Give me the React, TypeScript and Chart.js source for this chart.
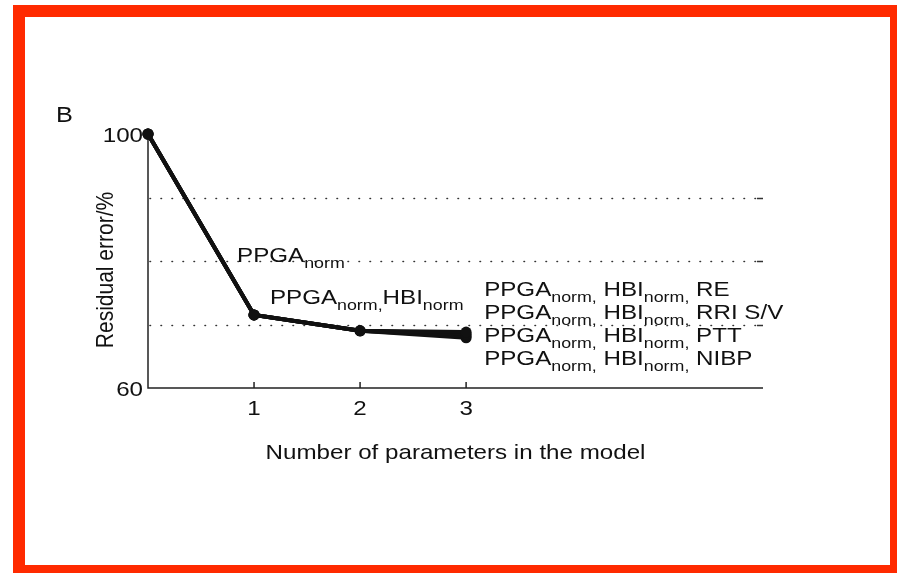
import React, { useEffect, useRef } from "react";
import { Chart, registerables } from "chart.js";

Chart.register(...registerables);

// Number of parameters in the model
const paramCounts = [0, 1, 2, 3];
// Residual error (%) shared by every model path up to two parameters
const sharedPath = [100, 71.5, 69.0];
// Residual error (%) of the four three-parameter models
const threeParamErrors = [68.8, 68.5, 68.2, 67.9];

const xTicks = [1, 2, 3];
const yTickLabels = [60, 100];
const yGridValues = [70, 80, 90];

const X_MAX = 5.8;
const Y_MIN = 60;
const Y_MAX = 100;

type Run = { t: string; sub?: boolean };

const oneParamLabel: Run[] = [{ t: "PPGA" }, { t: "norm", sub: true }];
const twoParamLabel: Run[] = [
  { t: "PPGA" },
  { t: "norm,", sub: true },
  { t: "HBI" },
  { t: "norm", sub: true },
];
const thirdParams = ["RE", "RRI S/V", "PTT", "NIBP"];

// label anchors in data units (left edge, first baseline)
const labelAnchors = [
  { x: 0.84, y: 79.8 },
  { x: 1.15, y: 73.2 },
  { x: 3.17, y: 74.5 },
];

const MAIN_FONT = '21px "Liberation Sans", Arial, sans-serif';
const SUB_FONT = '15.5px "Liberation Sans", Arial, sans-serif';
const SX = 1.15; // horizontal text stretch
const INK = "#111";

function drawText(ctx: CanvasRenderingContext2D, text: string, x: number, y: number, align: CanvasTextAlign) {
  ctx.save();
  ctx.translate(x, y);
  ctx.scale(SX, 1);
  ctx.textAlign = align;
  ctx.fillText(text, 0, 0);
  ctx.restore();
}

function drawRuns(ctx: CanvasRenderingContext2D, runs: Run[], x: number, y: number) {
  let cx = x;
  for (const r of runs) {
    ctx.font = r.sub ? SUB_FONT : MAIN_FONT;
    drawText(ctx, r.t, cx, y + (r.sub ? 6 : 0), "left");
    cx += ctx.measureText(r.t).width * SX;
  }
}

const framePlugin = {
  id: "frame",
  beforeDatasetsDraw(chart: any) {
    const { ctx, chartArea, scales } = chart;
    const xs = scales.x;
    const ys = scales.y;
    ctx.save();
    // dotted grid lines
    ctx.strokeStyle = "#333";
    ctx.lineWidth = 1.6;
    ctx.lineCap = "round";
    for (const v of yGridValues) {
      const py = Math.round(ys.getPixelForValue(v)) + 0.5;
      ctx.setLineDash([0.5, 10.5]);
      ctx.beginPath();
      ctx.moveTo(chartArea.left + 2, py);
      ctx.lineTo(chartArea.right - 7, py);
      ctx.stroke();
      ctx.setLineDash([]);
      ctx.lineCap = "butt";
      ctx.lineWidth = 1.5;
      ctx.beginPath();
      ctx.moveTo(chartArea.right - 6, py);
      ctx.lineTo(chartArea.right, py);
      ctx.stroke();
      ctx.lineCap = "round";
      ctx.lineWidth = 1.6;
    }
    // axes
    ctx.setLineDash([]);
    ctx.lineCap = "butt";
    ctx.strokeStyle = "#222";
    ctx.lineWidth = 1.5;
    ctx.beginPath();
    ctx.moveTo(chartArea.left, chartArea.top);
    ctx.lineTo(chartArea.left, chartArea.bottom);
    ctx.lineTo(chartArea.right, chartArea.bottom);
    ctx.stroke();
    // inward x ticks
    for (const v of xTicks) {
      const px = xs.getPixelForValue(v);
      ctx.beginPath();
      ctx.moveTo(px, chartArea.bottom);
      ctx.lineTo(px, chartArea.bottom - 6);
      ctx.stroke();
    }
    // tick labels
    ctx.fillStyle = INK;
    ctx.font = MAIN_FONT;
    ctx.textBaseline = "alphabetic";
    for (const v of xTicks) {
      drawText(ctx, String(v), xs.getPixelForValue(v), chartArea.bottom + 27, "center");
    }
    for (const v of yTickLabels) {
      drawText(ctx, String(v), chartArea.left - 5, ys.getPixelForValue(v) + 7.5, "right");
    }
    // axis titles
    drawText(ctx, "Number of parameters in the model", (chartArea.left + chartArea.right) / 2, chartArea.bottom + 71, "center");
    ctx.save();
    ctx.translate(chartArea.left - 42, (chartArea.top + chartArea.bottom) / 2 + 9);
    ctx.scale(SX, 1);
    ctx.rotate(-Math.PI / 2);
    ctx.textAlign = "center";
    ctx.textBaseline = "middle";
    ctx.fillText("Residual error/%", 0, 0);
    ctx.restore();
    // panel letter
    ctx.font = '22px "Liberation Sans", Arial, sans-serif';
    drawText(ctx, "B", chartArea.left - 92, chartArea.top - 12, "left");
    ctx.restore();
  },
  afterDatasetsDraw(chart: any) {
    const { ctx, scales } = chart;
    const xs = scales.x;
    const ys = scales.y;
    ctx.save();
    ctx.fillStyle = INK;
    ctx.textBaseline = "alphabetic";
    const a0 = labelAnchors[0];
    drawRuns(ctx, oneParamLabel, xs.getPixelForValue(a0.x), ys.getPixelForValue(a0.y));
    const a1 = labelAnchors[1];
    drawRuns(ctx, twoParamLabel, xs.getPixelForValue(a1.x), ys.getPixelForValue(a1.y));
    const a2 = labelAnchors[2];
    thirdParams.forEach((p, i) => {
      const runs: Run[] = [
        { t: "PPGA" },
        { t: "norm,", sub: true },
        { t: " HBI" },
        { t: "norm,", sub: true },
        { t: " " + p },
      ];
      drawRuns(ctx, runs, xs.getPixelForValue(a2.x), ys.getPixelForValue(a2.y) + i * 23);
    });
    ctx.restore();
  },
};

export default function App() {
  const ref = useRef<HTMLCanvasElement | null>(null);

  useEffect(() => {
    if (!ref.current) return;
    const datasets = threeParamErrors.map((last) => ({
      data: [...sharedPath, last].map((y, i) => ({ x: paramCounts[i], y })),
      borderColor: "#111",
      backgroundColor: "#111",
      borderWidth: 4,
      pointRadius: 5.5,
      pointBorderWidth: 0,
      pointBackgroundColor: "#111",
      tension: 0,
      clip: false as any,
    }));
    const chart = new Chart(ref.current, {
      type: "line",
      data: { datasets },
      options: {
        animation: false,
        responsive: false,
        devicePixelRatio: 1,
        layout: { padding: { left: 148, right: 134, top: 134, bottom: 185 } },
        plugins: { legend: { display: false }, tooltip: { enabled: false } },
        scales: {
          x: { type: "linear", min: 0, max: X_MAX, display: false },
          y: { type: "linear", min: Y_MIN, max: Y_MAX, display: false },
        },
      },
      plugins: [framePlugin],
    });
    return () => chart.destroy();
  }, []);

  return (
    <div style={{ position: "fixed", left: 0, top: 0, width: 897, height: 573, background: "#fff", overflow: "hidden" }}>
      <div
        style={{
          position: "absolute",
          left: 13,
          top: 5,
          width: 889,
          height: 572,
          border: "12px solid #ff2a00",
          boxSizing: "border-box",
        }}
      />
      <canvas ref={ref} width={897} height={573} style={{ position: "absolute", left: 0, top: 0, width: 897, height: 573 }} />
    </div>
  );
}
